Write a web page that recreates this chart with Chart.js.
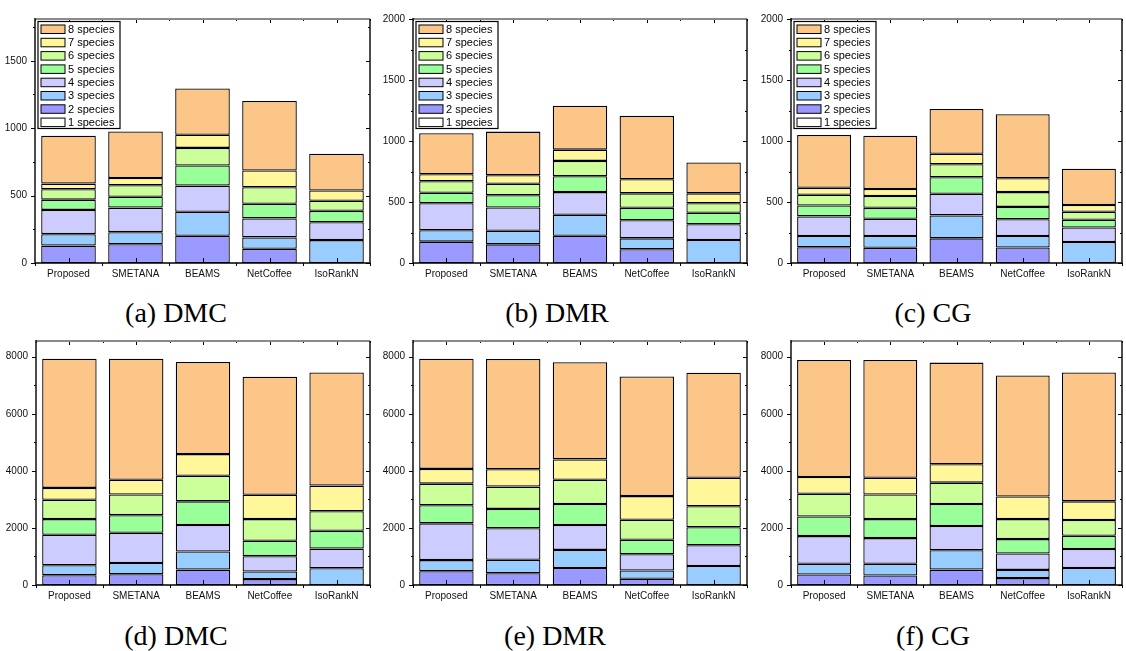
<!DOCTYPE html>
<html>
<head>
<meta charset="utf-8">
<script src="https://cdn.jsdelivr.net/npm/chart.js@4.4.1/dist/chart.umd.min.js"></script>
<style>
  html, body { margin: 0; padding: 0; background: #fff; }
  body { width: 1126px; height: 651px; position: relative; overflow: hidden; }
  canvas { position: absolute; }
  .cap { position: absolute; width: 220px; text-align: center; font-family: "Liberation Serif", "Times New Roman", serif; font-size: 28px; line-height: 32px; color: #000; white-space: nowrap; }
</style>
</head>
<body>
<script>
// ---------- DATA ----------
const categories = ["Proposed", "SMETANA", "BEAMS", "NetCoffee", "IsoRankN"];
const speciesLabels = ["1 species", "2 species", "3 species", "4 species", "5 species", "6 species", "7 species", "8 species"];
const captions = ["(a) DMC", "(b) DMR", "(c) CG", "(d) DMC", "(e) DMR", "(f) CG"];

// each row = one species level (1..8), values per method
const panelA = [
  [0, 0, 0, 0, 0],
  [129, 139, 202, 105, 0],
  [85, 90, 178, 85, 170],
  [180, 182, 194, 141, 132],
  [76, 80, 149, 109, 85],
  [77, 86, 131, 122, 75],
  [42, 53, 97, 124, 76],
  [355, 346, 343, 516, 272]
];
const panelB = [
  [0, 0, 0, 0, 0],
  [175, 153, 223, 113, 0],
  [94, 111, 173, 89, 188],
  [221, 191, 185, 148, 130],
  [86, 100, 130, 102, 94],
  [94, 94, 126, 119, 78],
  [57, 70, 92, 115, 81],
  [336, 358, 360, 520, 253]
];
const panelC = [
  [0, 0, 0, 0, 0],
  [129, 124, 202, 127, 0],
  [92, 97, 188, 94, 172],
  [161, 142, 178, 137, 119],
  [89, 89, 135, 102, 64],
  [89, 97, 107, 121, 65],
  [56, 57, 86, 114, 56],
  [434, 438, 367, 524, 297]
];
const panelD = [
  [0, 0, 0, 0, 0],
  [345, 379, 540, 207, 0],
  [345, 391, 632, 264, 586],
  [1069, 1058, 931, 540, 690],
  [551, 620, 828, 541, 621],
  [678, 724, 896, 758, 689],
  [414, 518, 759, 851, 897],
  [4529, 4241, 3230, 4138, 3965]
];
const panelE = [
  [0, 0, 0, 0, 0],
  [483, 414, 598, 218, 0],
  [390, 471, 632, 288, 667],
  [1288, 1104, 873, 574, 724],
  [632, 678, 736, 506, 632],
  [758, 781, 851, 701, 736],
  [518, 609, 712, 828, 999],
  [3862, 3863, 3403, 4195, 3679]
];
const panelF = [
  [0, 0, 0, 0, 0],
  [368, 333, 540, 241, 0],
  [379, 414, 678, 288, 598],
  [966, 897, 851, 574, 666],
  [689, 666, 770, 506, 460],
  [793, 862, 747, 701, 552],
  [587, 586, 644, 793, 655],
  [4103, 4127, 3563, 4241, 4517]
];
const yTicksA = [0, 500, 1000, 1500];
const yTicksBC = [0, 500, 1000, 1500, 2000];
const yTicksBottom = [0, 2000, 4000, 6000, 8000];
const yMaxTop = [1810, 2000, 2000];
const yMaxBottom = 8550;

// ---------- STYLE ----------
const speciesColors = ["#ffffff", "#9999ff", "#99ccff", "#ccccff", "#99ff99", "#ccff99", "#fff799", "#fbc688"];

const panels = [
  { data: panelA, L: 35, R: 370, T: 15, B: 263, max: yMaxTop[0], ticks: yTicksA, legend: true, capX: 176, capY: 297 },
  { data: panelB, L: 413, R: 747, T: 15, B: 263, max: yMaxTop[1], ticks: yTicksBC, legend: true, capX: 557, capY: 297 },
  { data: panelC, L: 791, R: 1122, T: 15, B: 263, max: yMaxTop[2], ticks: yTicksBC, legend: true, capX: 933, capY: 297 },
  { data: panelD, L: 36, R: 370, T: 337, B: 585, max: yMaxBottom, ticks: yTicksBottom, legend: false, capX: 176, capY: 620 },
  { data: panelE, L: 413, R: 747, T: 337, B: 585, max: yMaxBottom, ticks: yTicksBottom, legend: false, capX: 555, capY: 620 },
  { data: panelF, L: 791, R: 1122, T: 337, B: 585, max: yMaxBottom, ticks: yTicksBottom, legend: false, capX: 933, capY: 620 }
];

const PADL = 40, PADT = 10, PADR = 3, PADB = 22;

const framePlugin = {
  id: 'frame',
  afterDatasetsDraw(chart, args, opts) {
    const { ctx, chartArea: a, scales } = chart;
    const x = scales.x, y = scales.y;
    ctx.save();
    ctx.strokeStyle = '#000';
    ctx.lineWidth = 1;
    const n = chart.data.labels.length;
    for (let i = 0; i < n; i++) {
      const xc = Math.round(x.getPixelForValue(i)) + 0.5;
      ctx.beginPath();
      ctx.moveTo(xc, a.bottom); ctx.lineTo(xc, a.bottom - 5);
      ctx.moveTo(xc, a.top); ctx.lineTo(xc, a.top + 4);
      ctx.stroke();
    }
    for (let i = 0; i <= n; i++) {
      const xb = Math.round(x.getPixelForValue(i - 0.5)) + 0.5;
      ctx.beginPath();
      ctx.moveTo(xb, a.bottom); ctx.lineTo(xb, a.bottom + 3);
      ctx.moveTo(xb, a.top); ctx.lineTo(xb, a.top + 2);
      ctx.stroke();
    }
    const tv = opts.ticks;
    const major = tv[1] - tv[0], minor = major / 2;
    for (let v = 0; v <= y.max; v += minor) {
      const yp = Math.round(y.getPixelForValue(v)) + 0.5;
      const len = (v % major === 0) ? 4 : 2;
      ctx.beginPath();
      ctx.moveTo(a.left, yp); ctx.lineTo(a.left - len, yp);
      ctx.moveTo(a.right, yp); ctx.lineTo(a.right - len, yp);
      ctx.stroke();
    }
    ctx.lineWidth = 2;
    ctx.strokeStyle = '#8a8a8a';
    ctx.beginPath(); ctx.moveTo(a.left, a.top); ctx.lineTo(a.right, a.top); ctx.stroke();
    ctx.lineWidth = 1.4;
    ctx.strokeStyle = '#000';
    ctx.beginPath();
    ctx.moveTo(a.right, a.top); ctx.lineTo(a.right, a.bottom);
    ctx.moveTo(a.left, a.top - 1); ctx.lineTo(a.left, a.bottom);
    ctx.lineTo(a.right, a.bottom);
    ctx.stroke();

    if (opts.legend) {
      const bx = a.left + 3, by = a.top + 2.5, bw = 82, bh = 107;
      ctx.fillStyle = '#fff';
      ctx.fillRect(bx, by, bw, bh);
      ctx.lineWidth = 1.2;
      ctx.strokeStyle = '#000';
      ctx.strokeRect(bx, by, bw, bh);
      ctx.font = '11px "Liberation Sans", Arial, sans-serif';
      ctx.textBaseline = 'middle';
      ctx.textAlign = 'left';
      const ds = chart.data.datasets;
      let row = 0;
      for (let k = ds.length - 1; k >= 0; k--) {
        const sy = a.top + 6 + row * 13.3;
        ctx.fillStyle = ds[k].backgroundColor;
        ctx.fillRect(a.left + 6, sy, 24, 8.5);
        ctx.lineWidth = 1;
        ctx.strokeStyle = '#000';
        ctx.strokeRect(a.left + 6, sy, 24, 8.5);
        ctx.fillStyle = '#000';
        ctx.fillText(ds[k].label, a.left + 33, sy + 4.8);
        row++;
      }
    }
    ctx.restore();
  }
};

panels.forEach((p, idx) => {
  const cv = document.createElement('canvas');
  const W = (p.R - p.L) + PADL + PADR;
  const H = (p.B - p.T) + PADT + PADB;
  cv.width = W; cv.height = H;
  cv.style.left = (p.L - PADL) + 'px';
  cv.style.top = (p.T - PADT) + 'px';
  cv.style.width = W + 'px'; cv.style.height = H + 'px';
  document.body.appendChild(cv);

  const cap = document.createElement('div');
  cap.className = 'cap';
  cap.textContent = captions[idx];
  cap.style.left = (p.capX - 110) + 'px';
  cap.style.top = p.capY + 'px';
  document.body.appendChild(cap);

  const datasets = speciesLabels.map((lab, k) => ({
    label: lab,
    data: p.data[k],
    backgroundColor: speciesColors[k],
    borderColor: '#000',
    borderWidth: 1.3,
    borderSkipped: false,
    inflateAmount: 0,
    categoryPercentage: 0.815,
    barPercentage: 1.0
  }));

  new Chart(cv, {
    type: 'bar',
    data: { labels: categories, datasets },
    plugins: [framePlugin],
    options: {
      responsive: false,
      animation: false,
      devicePixelRatio: 1,
      layout: { padding: { left: 0, top: PADT, right: PADR, bottom: 0 } },
      plugins: {
        legend: { display: false },
        tooltip: { enabled: false },
        frame: { ticks: p.ticks, legend: p.legend }
      },
      scales: {
        x: {
          stacked: true,
          grid: { display: false, drawTicks: false },
          border: { display: false },
          ticks: { color: '#111', font: { family: '"Liberation Sans", Arial, sans-serif', size: 10 }, padding: 5, maxRotation: 0, autoSkip: false },
          afterFit: s => { s.height = PADB; }
        },
        y: {
          stacked: true,
          min: 0,
          max: p.max,
          grid: { display: false, drawTicks: false },
          border: { display: false },
          afterBuildTicks: s => { s.ticks = p.ticks.map(v => ({ value: v })); },
          ticks: {
            autoSkip: false,
            color: '#111',
            font: { family: '"Liberation Sans", Arial, sans-serif', size: 10 },
            padding: 8,
            callback: v => String(v)
          },
          afterFit: s => { s.width = PADL; }
        }
      }
    }
  });
});
</script>
</body>
</html>
